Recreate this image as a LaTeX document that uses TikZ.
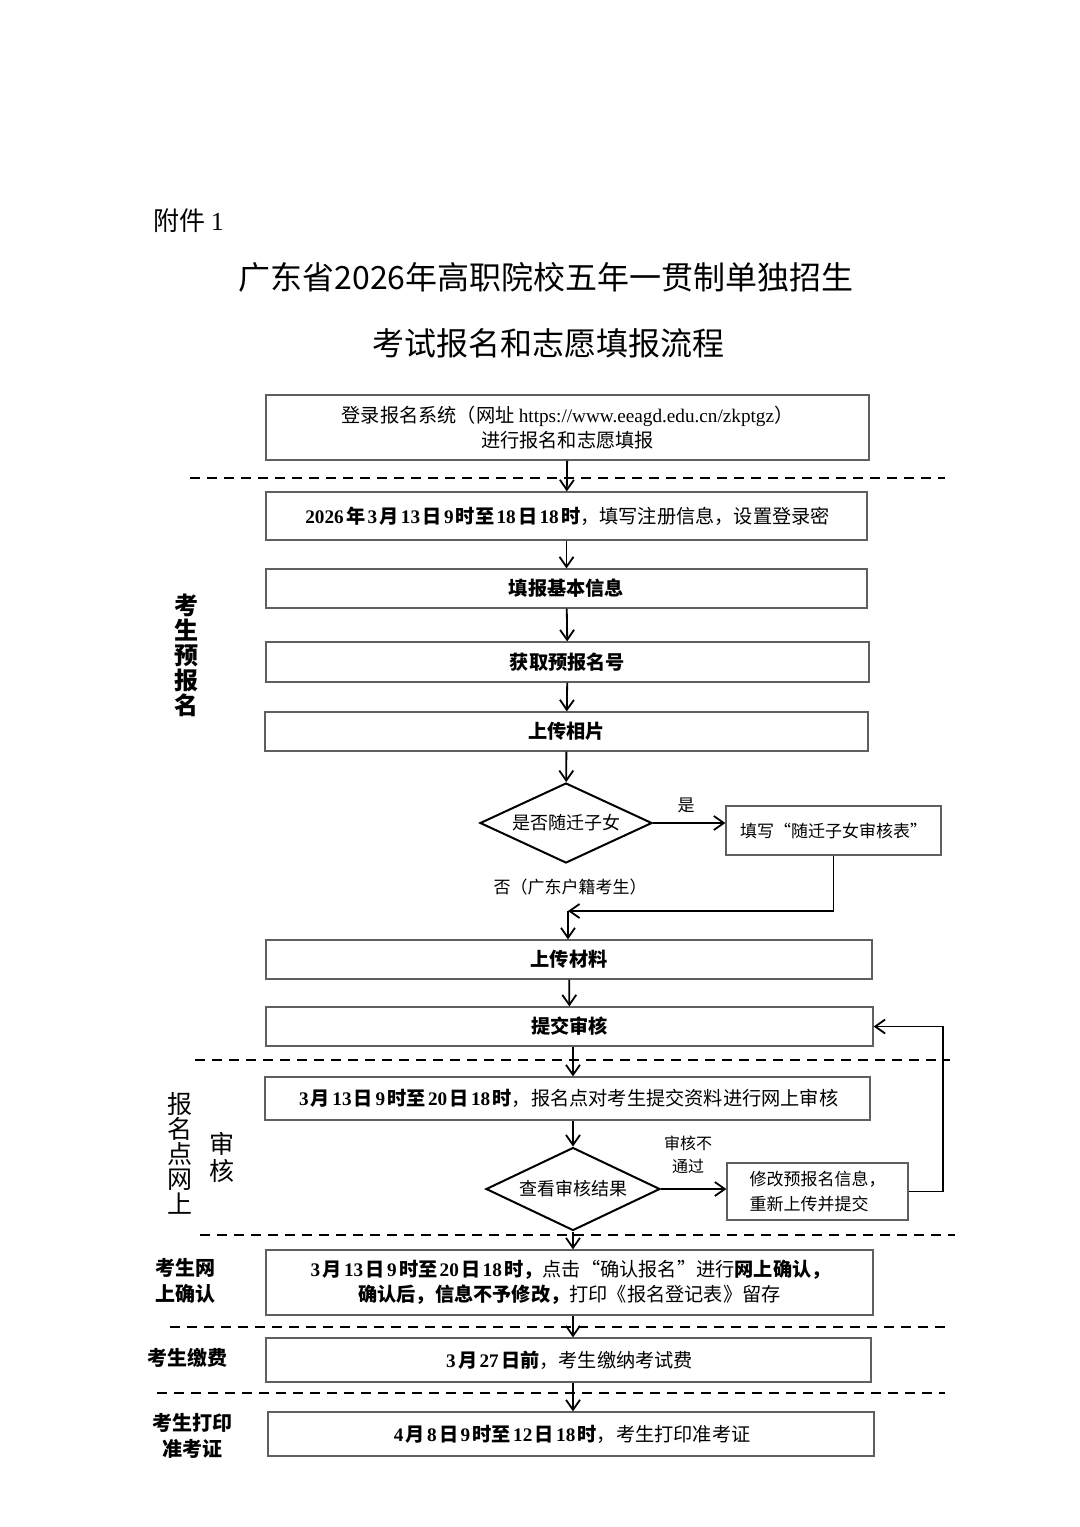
\documentclass[tikz,border=0pt]{standalone}
\usepackage{fontspec}
\setmainfont{Noto Sans CJK SC}
\newfontfamily\tnr{Liberation Serif}
\usepackage{tikz}
\usetikzlibrary{arrows.meta,positioning,shapes.geometric}
\definecolor{boxline}{RGB}{95,95,95}
\newcommand{\dg}[1]{\hspace{0.12em}{\tnr #1}\hspace{0.12em}}

\begin{document}
\begin{tikzpicture}[x=0.5pt, y=-0.5pt,
  >={Straight Barb[length=5pt,width=7pt]},
  tbox/.style={draw=boxline, line width=0.6pt, align=center, inner sep=0pt,
               font=\fontsize{9.6}{12.5}\selectfont},
  key/.style={tbox, font=\fontsize{9.6}{12.5}\selectfont\bfseries},
  ask/.style={diamond, aspect=2.15, draw, line width=1pt, inner sep=0pt,
              font=\fontsize{9}{11}\selectfont},
  lane/.style={align=center, font=\fontsize{12}{12.5}\selectfont\bfseries},
  side/.style={align=center, font=\fontsize{10}{13}\selectfont\bfseries},
  tag/.style={align=center, font=\fontsize{8.5}{11.5}\selectfont},
  arr/.style={->, line width=0.9pt},
  sep/.style={line width=1.2pt, dash pattern=on 5pt off 3.5pt}]
\useasboundingbox (0,0) rectangle (1080,1527);

% heading
\node[anchor=west, font=\fontsize{13}{15}\selectfont] (annex) at (146,221) {附件 {\tnr 1}};
\node[font=\fontsize{16}{20}\selectfont] (title) at (546,277) {广东省2026年高职院校五年一贯制单独招生};
\node[font=\fontsize{16}{20}\selectfont] (subtitle) at (548,343) {考试报名和志愿填报流程};

% pre-registration
\node[tbox, minimum width=301.5pt, minimum height=32.5pt] (login) at (567.5,427.5)
  {登录报名系统（网址 {\tnr https://www.eeagd.edu.cn/zkptgz}）\\进行报名和志愿填报};
\node[tbox, minimum width=300.5pt, minimum height=24pt] (reg) at (566.5,516)
  {{\bfseries\dg{2026}年\dg{3}月\dg{13}日\dg{9}时至\dg{18}日\dg{18}时}，填写注册信息，设置登录密};
\node[key, minimum width=300.5pt, minimum height=19.5pt] (basic) at (566.5,588.5) {填报基本信息};
\node[key, minimum width=301.5pt, minimum height=20pt] (num) at (567.5,662) {获取预报名号};
\node[key, minimum width=301.5pt, minimum height=19.5pt] (photo) at (566.5,731.5) {上传相片};
\node[ask, minimum width=86pt, minimum height=40pt] (kid) at (566,823) {是否随迁子女};
\node[tbox, font=\fontsize{8.5}{11}\selectfont, minimum width=107.5pt, minimum height=24.5pt] (form) at (833.5,830.5) {填写“随迁子女审核表”};
\node[tag] (yes) at (686,805) {是};
\node[tag] (no) at (570,887) {否（广东户籍考生）};
\coordinate (join) at (568,911);
\node[key, minimum width=303pt, minimum height=19.5pt] (docs) at (569,959.5) {上传材料};
\node[key, minimum width=303.5pt, minimum height=19.5pt] (submit) at (569.5,1026.5) {提交审核};

% online review
\node[tbox, minimum width=302.5pt, minimum height=21.5pt] (check) at (567.5,1098.5)
  {{\bfseries\dg{3}月\dg{13}日\dg{9}时至\dg{20}日\dg{18}时}，报名点对考生提交资料进行网上审核};
\node[ask, minimum width=87pt, minimum height=41.5pt] (result) at (573,1189) {查看审核结果};
\node[tbox, align=left, font=\fontsize{8.5}{12.5}\selectfont, minimum width=90.5pt, minimum height=28.5pt] (redo) at (817.5,1191.5)
  {修改预报名信息，\\重新上传并提交};
\node[tag, font=\fontsize{8}{11.5}\selectfont] (fail) at (688,1155) {审核不\\通过};

% confirm, pay, print
\node[tbox, minimum width=303.5pt, minimum height=32.5pt] (confirm) at (569.5,1282.5)
  {{\bfseries\dg{3}月\dg{13}日\dg{9}时至\dg{20}日\dg{18}时，}点击“确认报名”进行{\bfseries 网上确认，}\\
   {\bfseries 确认后，信息不予修改，}打印《报名登记表》留存};
\node[tbox, minimum width=302.5pt, minimum height=22pt] (pay) at (568.5,1360)
  {{\bfseries\dg{3}月\dg{27}日前}，考生缴纳考试费};
\node[tbox, minimum width=303pt, minimum height=22pt] (ticket) at (571,1434)
  {{\bfseries\dg{4}月\dg{8}日\dg{9}时至\dg{12}日\dg{18}时}，考生打印准考证};

% stage labels
\node[lane] (pre) at (186,655) {考\\生\\预\\报\\名};
\node[lane, font=\fontsize{12.5}{12.5}\selectfont] (site) at (180,1153) {报\\名\\点\\网\\上};
\node[lane, font=\fontsize{12.5}{13.5}\selectfont] (audit) at (222,1157) {审\\核};
\node[side] (online) at (185,1281) {考生网\\上确认};
\node[side] (fee) at (187,1358) {考生缴费};
\node[side] (print) at (192,1436) {考生打印\\准考证};

% separators
\draw[sep] (190,478) -- (945,478);
\draw[sep] (195,1060) -- (950,1060);
\draw[sep] (200,1235) -- (955,1235);
\draw[sep] (170,1327) -- (950,1327);
\draw[sep] (157,1393) -- (945,1393);

% flow
\draw[arr] (login) -- (reg);
\draw[arr] (reg) -- (basic);
\draw[arr] (basic) -- (num);
\draw[arr] (num) -- (photo);
\draw[arr] (photo) -- (kid);
\draw[arr] (kid.east) -- (kid.east -| form.west);
\draw[arr] (form.south) |- (join);
\draw[arr] (join) -- (join |- docs.north);
\draw[arr] (docs) -- (submit);
\draw[arr] (result.north |- submit.south) -- (result.north |- check.north);
\draw[arr] (result.north |- check.south) -- (result.north);
\draw[arr] (result.east) -- (result.east -| redo.west);
\draw[arr] (redo.east) -- ++(34,0) |- (submit.east);
\draw[arr] (result.south) -- (result.south |- confirm.north);
\draw[arr] (result.south |- confirm.south) -- (result.south |- pay.north);
\draw[arr] (result.south |- pay.south) -- (result.south |- ticket.north);
\end{tikzpicture}
\end{document}
